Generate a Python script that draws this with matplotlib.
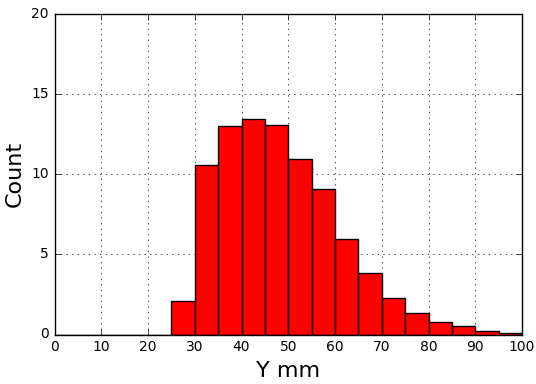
import matplotlib
matplotlib.use("Agg")
import matplotlib.pyplot as plt

# histogram bins (left edges, width 5 mm) and counts
bin_left = [0, 5, 10, 15, 20, 25, 30, 35, 40, 45, 50, 55, 60, 65, 70, 75, 80, 85, 90, 95]
counts = [0, 0, 0, 0, 0, 2.12, 10.56, 13.02, 13.42, 13.1, 10.98, 9.08,
          5.94, 3.83, 2.27, 1.36, 0.81, 0.5, 0.23, 0.1]
bin_width = 5

plt.style.use("classic")
fig = plt.figure(figsize=(5.36, 3.84), dpi=100)
ax = fig.add_axes([54.5 / 536, 1 - 334.5 / 384, (522 - 54.5) / 536, (334.5 - 14) / 384])

ax.bar(bin_left, counts, width=bin_width, align="edge", color="red",
       edgecolor="black", linewidth=1)

ax.set_xlim(0, 100)
ax.set_ylim(0, 20)
ax.set_xticks(range(0, 101, 10))
ax.set_yticks(range(0, 21, 5))
ax.tick_params(labelsize=10)
ax.grid(True)
ax.set_axisbelow(True)
ax.set_xlabel("Y mm", fontsize=16)
ax.set_ylabel("Count", fontsize=16)

fig.savefig("out.png", dpi=100)
